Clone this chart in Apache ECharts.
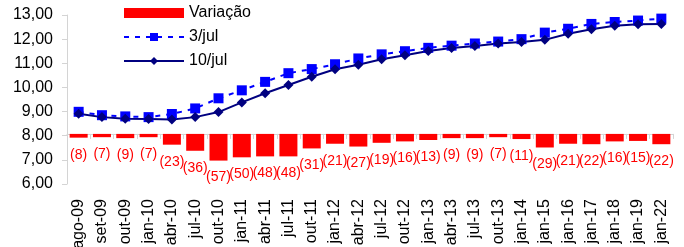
<!DOCTYPE html>
<html><head><meta charset="utf-8">
<script src="https://cdn.jsdelivr.net/npm/echarts@6/dist/echarts.min.js"></script>
<style>html,body{margin:0;padding:0;background:#fff}#c{width:684px;height:247px}</style>
</head><body><div id="c"></div>
<script>
const categories = ['ago-09','set-09','out-09','jan-10','abr-10','jul-10','out-10','jan-11','abr-11','jul-11','out-11','jan-12','abr-12','jul-12','out-12','jan-13','abr-13','jul-13','out-13','jan-14','jan-15','jan-16','jan-17','jan-18','jan-19','jan-22'];
const variacao = [-8,-7,-9,-7,-23,-36,-57,-50,-48,-48,-31,-21,-27,-19,-16,-13,-9,-9,-7,-11,-29,-21,-22,-16,-15,-22];
const jul3 = [8.99,8.85,8.80,8.77,8.90,9.13,9.55,9.88,10.23,10.59,10.76,10.96,11.20,11.37,11.50,11.64,11.73,11.82,11.90,12.00,12.27,12.43,12.63,12.71,12.77,12.85];
const jul10 = [8.91,8.77,8.70,8.69,8.67,8.77,8.98,9.38,9.76,10.10,10.44,10.75,10.94,11.17,11.33,11.51,11.63,11.72,11.82,11.88,11.97,12.22,12.41,12.55,12.62,12.63];
const yTicks = {min: 6, max: 13, interval: 1};

const font = 'Liberation Sans, Arial, sans-serif';
const chart = echarts.init(document.getElementById('c'), null, {renderer: 'canvas'});
chart.setOption({
  animation: false,
  backgroundColor: '#ffffff',
  textStyle: {fontFamily: font},
  grid: {left: 67, right: 11, top: 15, bottom: 63, containLabel: false, outerBoundsMode: 'none'},
  legend: {
    orient: 'vertical', left: 123, top: 5, padding: 0, itemWidth: 60, itemHeight: 10, itemGap: 8,
    textStyle: {fontSize: 16, color: '#000', fontFamily: font},
    data: [{name: 'Variação', icon: 'rect'}, '3/jul', '10/jul']
  },
  xAxis: {
    type: 'category', data: categories, boundaryGap: true,
    axisLine: {lineStyle: {color: '#d4d4d4', width: 1}},
    axisTick: {show: true, length: 5, inside: false, lineStyle: {color: '#d4d4d4'}},
    axisLabel: {rotate: 90, fontSize: 16, color: '#000', margin: 15, interval: 0, fontFamily: font}
  },
  yAxis: [{
    type: 'value', min: yTicks.min, max: yTicks.max, interval: yTicks.interval,
    splitLine: {show: false},
    axisLine: {show: true, lineStyle: {color: '#d4d4d4'}},
    axisTick: {show: true, length: 5, lineStyle: {color: '#d4d4d4'}},
    axisLabel: {fontSize: 16, color: '#000', margin: 14, fontFamily: font,
      formatter: v => v.toFixed(2).replace('.', ',')}
  }, {
    type: 'value', min: -107, max: 254, show: false, splitLine: {show: false}
  }],
  series: [{
    name: 'Variação', type: 'bar', yAxisIndex: 1, data: variacao, barWidth: 18,
    itemStyle: {color: '#ff0000'},
    label: {show: true, position: 'bottom', distance: 10, color: '#ff0000', fontSize: 14, fontFamily: font,
      formatter: p => '(' + Math.abs(p.value) + ')'}
  }, {
    name: '3/jul', type: 'line', data: jul3, symbol: 'rect', symbolSize: 10,
    lineStyle: {color: '#0000ff', width: 2, type: [5, 6]},
    itemStyle: {color: '#0000ff'}
  }, {
    name: '10/jul', type: 'line', data: jul10, symbol: 'diamond', symbolSize: 10,
    lineStyle: {color: '#000080', width: 2},
    itemStyle: {color: '#000080'}
  }]
});
</script></body></html>
